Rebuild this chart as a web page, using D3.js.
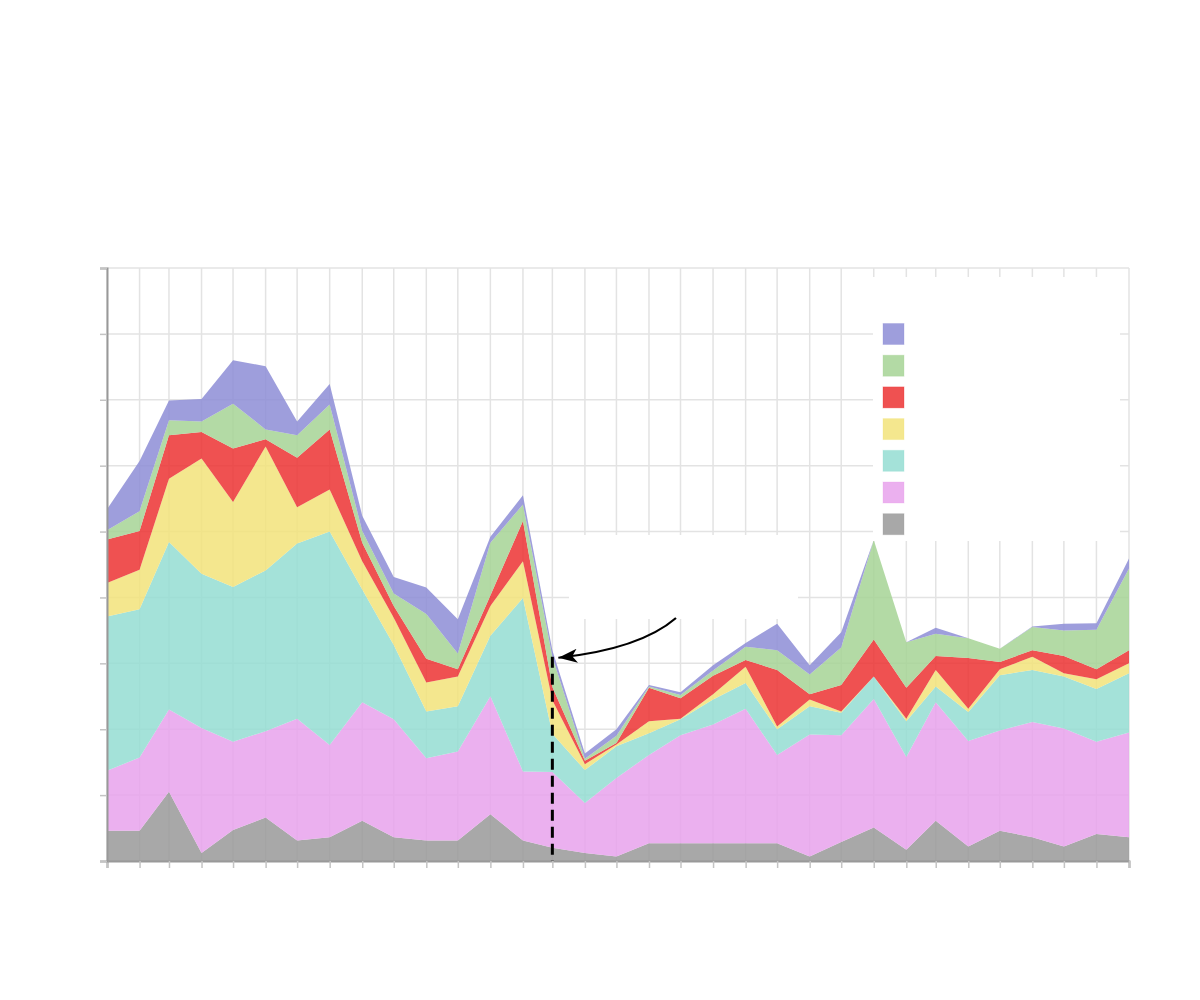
<!DOCTYPE html>
<html>
<head>
<meta charset="utf-8">
<script src="https://cdn.jsdelivr.net/npm/d3@7"></script>
<style>
  html, body { margin: 0; padding: 0; background: #ffffff; }
  svg { display: block; font-family: "DejaVu Sans", sans-serif; }
</style>
</head>
<body>
<svg id="chart" width="1200" height="1000"></svg>
<script>
// ---- data (monthly points) ----
const months = ["2017-01","2017-02","2017-03","2017-04","2017-05","2017-06","2017-07","2017-08","2017-09","2017-10","2017-11","2017-12",
                "2018-01","2018-02","2018-03","2018-04","2018-05","2018-06","2018-07","2018-08","2018-09","2018-10","2018-11","2018-12",
                "2019-01","2019-02","2019-03","2019-04","2019-05","2019-06","2019-07","2019-08","2019-09"];
const seriesKeys = ["gray", "pink", "teal", "yellow", "red", "green", "purple"]; // bottom -> top
const gray   = [4.6,4.6,10.5,1.2,4.7,6.6,3.1,3.6,6.1,3.6,3.1,3.1,7.1,3.1,2.0,1.2,0.7,2.7,2.7,2.7,2.7,2.7,0.7,2.9,5.1,1.7,6.1,2.2,4.6,3.6,2.2,4.1,3.6];
const pink   = [9.1,11.1,12.5,19.0,13.4,13.1,18.5,14.0,18.0,17.9,12.5,13.5,17.9,10.5,11.5,7.6,11.9,13.4,16.4,18.0,20.4,13.4,18.5,16.2,19.5,14.1,18.0,16.0,15.2,17.5,17.9,14.0,15.9];
const teal   = [23.4,22.5,25.4,23.4,23.5,24.4,26.6,32.4,17.1,11.3,7.1,6.9,9.2,26.3,5.8,5.0,4.8,3.3,2.4,3.8,3.9,3.9,4.3,3.4,3.4,5.4,2.4,4.4,8.4,7.9,7.9,8.0,9.0];
const yellow = [5.1,6.0,9.6,17.5,12.9,18.8,5.5,6.4,4.3,4.1,4.4,4.5,4.5,5.6,5.1,0.9,0.3,1.8,0.1,0.8,2.5,0.4,1.0,0.2,0.0,0.4,2.5,0.5,0.9,2.0,0.5,1.5,1.5];
const red    = [6.6,5.9,6.6,4.0,8.1,1.1,7.5,9.1,2.8,1.8,3.6,1.1,1.6,6.1,2.0,0.5,0.2,5.1,3.1,2.8,1.0,8.6,0.8,4.0,5.6,4.7,2.1,7.7,1.1,1.0,2.6,1.5,2.0];
const green  = [1.4,3.0,2.3,1.6,6.8,1.5,3.4,3.8,1.8,1.9,6.8,2.4,8.0,2.5,4.6,0.3,1.1,0.2,0.5,0.8,2.0,3.0,3.0,5.7,15.1,6.9,3.4,3.0,2.0,3.5,3.9,6.0,12.4];
const purple = [3.2,7.6,3.0,3.4,6.6,9.6,2.1,3.1,2.3,2.5,4.0,5.2,0.9,1.4,1.0,0.8,1.0,0.2,0.4,0.8,0.6,4.0,1.4,2.3,0.0,0.0,0.9,0.0,0.0,0.1,1.0,1.0,1.5];
const yTicks = [0,10,20,30,40,50,60,70,80,90];
const markerMonth = "2018-03";
const markerValue = 31;
const legendOrder = ["purple", "green", "red", "yellow", "teal", "pink", "gray"];

// ---- styles ----
const colors = {
  purple: "#8d8dd6", green: "#a6d495", red: "#ec3232", yellow: "#f2e37a",
  teal: "#94ddd2", pink: "#e7a2ec", gray: "#999999"
};
const areaOpacity = 0.85;

// ---- build table ----
const parseMonth = d3.timeParse("%Y-%m");
const dates = months.map(parseMonth);
const seriesData = { gray, pink, teal, yellow, red, green, purple };
const table = dates.map((dt, i) => {
  const row = { date: dt };
  seriesKeys.forEach(k => row[k] = seriesData[k][i]);
  return row;
});

const svg = d3.select("#chart");
const m = { left: 107, right: 1129, top: 268, bottom: 861 };

const x = d3.scaleTime().domain(d3.extent(dates)).range([m.left, m.right]);
const y = d3.scaleLinear().domain([0, 90]).range([m.bottom, m.top]);

// grid
const grid = svg.append("g");
grid.selectAll("line.v").data(dates).join("line")
  .attr("x1", d => x(d)).attr("x2", d => x(d))
  .attr("y1", m.top).attr("y2", m.bottom)
  .attr("stroke", "#e3e3e3").attr("stroke-width", 1.5);
grid.selectAll("line.h").data(yTicks).join("line")
  .attr("x1", m.left).attr("x2", m.right)
  .attr("y1", d => y(d)).attr("y2", d => y(d))
  .attr("stroke", "#e3e3e3").attr("stroke-width", 1.5);

// stacked areas
const stack = d3.stack().keys(seriesKeys);
const layers = stack(table);
const area = d3.area()
  .x(d => x(d.data.date))
  .y0(d => y(d[0]))
  .y1(d => y(d[1]));
svg.append("g").selectAll("path").data(layers).join("path")
  .attr("d", area)
  .attr("fill", d => colors[d.key])
  .attr("fill-opacity", areaOpacity);

// axes
const xAxis = d3.axisBottom(x).tickValues(dates).tickSize(7).tickFormat(() => "");
const gx = svg.append("g").attr("transform", `translate(0,${m.bottom})`).call(xAxis);
gx.select(".domain").attr("stroke", "#999").attr("stroke-width", 2);
gx.selectAll(".tick line").attr("stroke", "#c4c4c4").attr("stroke-width", 1.5);

const yAxis = d3.axisLeft(y).tickValues(yTicks).tickSize(7).tickFormat(() => "");
const gy = svg.append("g").attr("transform", `translate(${m.left},0)`).call(yAxis);
gy.select(".domain").attr("stroke", "#999").attr("stroke-width", 2);
gy.selectAll(".tick line").attr("stroke", "#c4c4c4").attr("stroke-width", 1.5);

// annotation box (white background of the annotation)
svg.append("rect")
  .attr("x", 569).attr("y", 535).attr("width", 229).attr("height", 84)
  .attr("fill", "#ffffff");

// dashed marker line
const mx = x(parseMonth(markerMonth));
svg.append("line")
  .attr("x1", mx).attr("x2", mx)
  .attr("y1", y(markerValue)).attr("y2", y(0))
  .attr("stroke", "#000").attr("stroke-width", 3)
  .attr("stroke-dasharray", "11,6");

// arrow
const defs = svg.append("defs");
defs.append("marker")
  .attr("id", "arrowhead")
  .attr("viewBox", "0 0 20 20")
  .attr("refX", 19).attr("refY", 10)
  .attr("markerWidth", 20).attr("markerHeight", 20)
  .attr("markerUnits", "userSpaceOnUse")
  .attr("orient", "auto")
  .append("path")
  .attr("d", "M0,3 L19,10 L0,17 L5,10 Z")
  .attr("fill", "#000");

const tipX = mx + 6, tipY = y(markerValue) + 1;
svg.append("path")
  .attr("d", `M676,618 Q640,649 ${tipX},${tipY}`)
  .attr("fill", "none")
  .attr("stroke", "#000")
  .attr("stroke-width", 2.2)
  .attr("marker-end", "url(#arrowhead)");

// legend
const legend = svg.append("g");
legend.append("rect")
  .attr("x", 873).attr("y", 277).attr("width", 247).attr("height", 264)
  .attr("fill", "#ffffff");
legend.selectAll("rect.sw").data(legendOrder).join("rect")
  .attr("class", "sw")
  .attr("x", 883).attr("y", (d, i) => 323.5 + i * 31.7)
  .attr("width", 21).attr("height", 21)
  .attr("fill", d => colors[d]).attr("fill-opacity", areaOpacity)
  .attr("stroke", d => colors[d]).attr("stroke-opacity", 0.3).attr("stroke-width", 1);
</script>
</body>
</html>
